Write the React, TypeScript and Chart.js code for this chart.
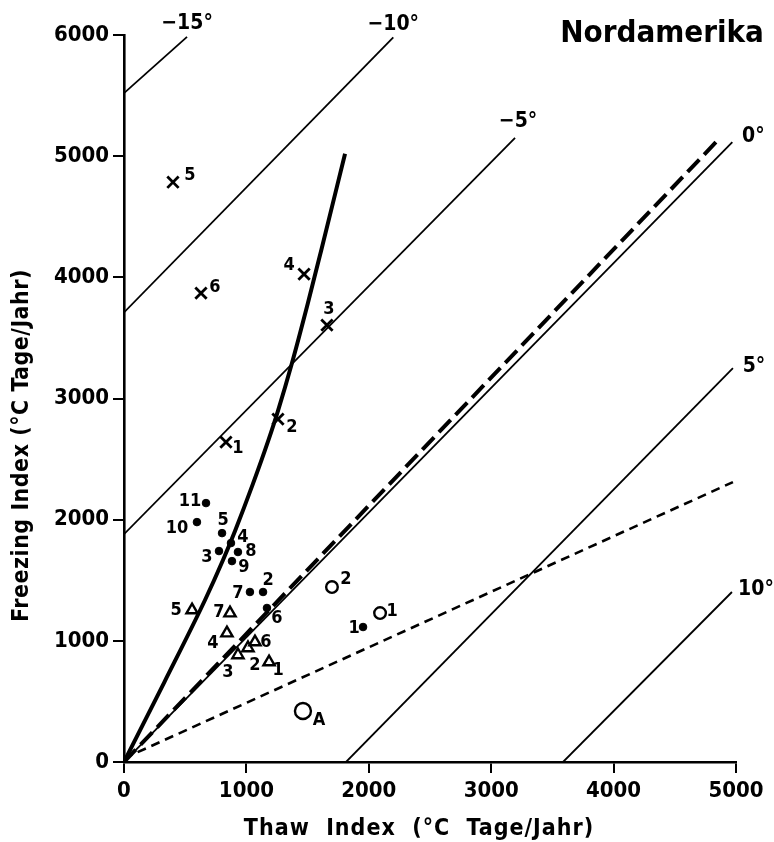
import React, { useEffect, useRef } from "react";
import { Chart, registerables } from "chart.js";

Chart.register(...registerables);

// ---------- data ----------
// Isotherm lines (mean annual air temperature), start and end points
const isoLabels = ["−15°", "−10°", "−5°", "0°", "5°", "10°"];
const isoStartThaw = [0, 0, 0, 0, 1814, 3587];
const isoStartFreeze = [5520, 3710, 1880, 0, 0, 0];
const isoEndThaw = [515, 2200, 3195, 4970, 4975, 4967];
const isoEndFreeze = [5985, 5980, 5150, 5115, 3250, 1403];

// Thick solid curve
const curveThaw = [0, 330, 662, 809, 907, 1054, 1180, 1258, 1373, 1500, 1609, 1806];
const curveFreeze = [0, 660, 1337, 1667, 1907, 2297, 2656, 2898, 3295, 3778, 4214, 5020];

// Thick long-dashed line
const longDashThaw = [0, 4850];
const longDashFreeze = [0, 5130];

// Thin short-dashed line
const shortDashThaw = [0, 4975];
const shortDashFreeze = [30, 2310];

// Crosses (x)
const crossLabels = ["1", "2", "3", "4", "5", "6"];
const crossThaw = [833, 1258, 1658, 1471, 400, 629];
const crossFreeze = [2640, 2830, 3606, 4026, 4785, 3870];

// Filled dots
const dotLabels = ["1", "2", "3", "4", "5", "6", "7", "8", "9", "10", "11"];
const dotThaw = [1953, 1136, 776, 874, 801, 1168, 1029, 931, 882, 596, 670];
const dotFreeze = [1114, 1403, 1741, 1807, 1889, 1271, 1403, 1733, 1658, 1980, 2137];

// Open circles
const circleLabels = ["1", "2"];
const circleThaw = [2092, 1699];
const circleFreeze = [1229, 1444];

// Circle with dot
const targetLabels = ["A"];
const targetThaw = [1462];
const targetFreeze = [421];

// Open triangles
const triLabels = ["1", "2", "3", "4", "5", "6", "7"];
const triThaw = [1185, 1013, 931, 841, 556, 1070, 866];
const triFreeze = [825, 941, 883, 1064, 1254, 990, 1229];

// ---------- styling / label placement (pixel offsets) ----------
const FAMILY = "'DejaVu Sans Condensed', 'DejaVu Sans', sans-serif";
const isoLabelOffsets = [[0, -13], [0, -13], [3, -16], [21, -6], [21, -2], [24, -2]];
const crossLabelOffsets = [[12, 6], [14, 8], [2, -16], [-15, -9], [17, -7], [14, -6]];
const dotLabelOffsets = [[-9, 1], [5, -12], [-12, 6], [12, -6], [1, -13], [10, 10], [-12, 1], [13, -1], [12, 6], [-20, 6], [-16, -2]];
const circleLabelOffsets = [[12, -2], [14, -8]];
const targetLabelOffsets = [[16, 9]];
const triLabelOffsets = [[9, 8], [7, 17], [-10, 17], [-14, 10], [-16, 0], [11, 0], [-11, -1]];

const pts = (xs: number[], ys: number[]) => xs.map((x, i) => ({ x, y: ys[i] }));

const textPlugin = {
  id: "textPlugin",
  afterDatasetsDraw(chart: any) {
    const ctx = chart.ctx;
    ctx.save();
    ctx.fillStyle = "#000";
    ctx.textAlign = "center";
    ctx.textBaseline = "middle";
    chart.data.datasets.forEach((ds: any, i: number) => {
      if (!ds.pointLabels) return;
      const meta = chart.getDatasetMeta(i);
      ctx.font = ds.labelFont;
      ds.pointLabels.forEach((lab: string, j: number) => {
        if (!lab) return;
        const el = meta.data[j];
        const off = ds.labelOffsets[j] || [0, 0];
        ctx.fillText(lab, el.x + off[0], el.y + off[1]);
      });
    });
    ctx.restore();
  },
  afterDraw(chart: any) {
    const ctx = chart.ctx;
    const a = chart.chartArea;
    ctx.save();
    ctx.fillStyle = "#000";
    ctx.textAlign = "center";
    ctx.textBaseline = "middle";
    // main title
    ctx.font = `bold 31px ${FAMILY}`;
    ctx.fillText("Nordamerika", a.right - 74, a.top - 1);
    // x axis title
    ctx.font = `bold 23px ${FAMILY}`;
    (ctx as any).letterSpacing = "1px";
    ctx.fillText("Thaw  Index  (°C  Tage/Jahr)", (a.left + a.right) / 2 - 11, a.bottom + 67);
    // y axis title
    (ctx as any).letterSpacing = "0.5px";
    ctx.translate(22, (a.top + a.bottom) / 2 + 47);
    ctx.rotate(-Math.PI / 2);
    ctx.fillText("Freezing Index (°C Tage/Jahr)", 0, 0);
    ctx.restore();
  },
};

export default function App() {
  const ref = useRef<HTMLCanvasElement | null>(null);

  useEffect(() => {
    document.body.style.margin = "0";
    document.body.style.overflow = "hidden";
    const canvas = ref.current;
    if (!canvas) return;

    const isoSets = isoLabels.map((lab, i) => ({
      data: pts([isoStartThaw[i], isoEndThaw[i]], [isoStartFreeze[i], isoEndFreeze[i]]),
      showLine: true,
      borderColor: "#000",
      borderWidth: 1.8,
      pointRadius: 0,
      fill: false,
      pointLabels: ["", lab],
      labelOffsets: [[0, 0], isoLabelOffsets[i]],
      labelFont: `bold 21px ${FAMILY}`,
    }));

    const labelFont = `bold 18px ${FAMILY}`;

    const datasets: any[] = [
      ...isoSets,
      {
        data: pts(curveThaw, curveFreeze),
        showLine: true,
        borderColor: "#000",
        borderWidth: 4,
        pointRadius: 0,
        cubicInterpolationMode: "monotone",
        fill: false,
      },
      {
        data: pts(longDashThaw, longDashFreeze),
        showLine: true,
        borderColor: "#000",
        borderWidth: 4,
        borderDash: [17, 7],
        pointRadius: 0,
        fill: false,
      },
      {
        data: pts(shortDashThaw, shortDashFreeze),
        showLine: true,
        borderColor: "#000",
        borderWidth: 2.6,
        borderDash: [9, 6],
        pointRadius: 0,
        fill: false,
      },
      {
        data: pts(crossThaw, crossFreeze),
        pointStyle: "crossRot",
        pointRadius: 8,
        borderColor: "#000",
        pointBorderWidth: 2.8,
        pointLabels: crossLabels,
        labelOffsets: crossLabelOffsets,
        labelFont,
      },
      {
        data: pts(dotThaw, dotFreeze),
        pointStyle: "circle",
        pointRadius: 3.8,
        backgroundColor: "#000",
        borderColor: "#000",
        pointBorderWidth: 1,
        pointLabels: dotLabels,
        labelOffsets: dotLabelOffsets,
        labelFont,
      },
      {
        data: pts(circleThaw, circleFreeze),
        pointStyle: "circle",
        pointRadius: 5.8,
        backgroundColor: "#fff",
        borderColor: "#000",
        pointBorderWidth: 2.4,
        pointLabels: circleLabels,
        labelOffsets: circleLabelOffsets,
        labelFont,
      },
      {
        data: pts(targetThaw, targetFreeze),
        pointStyle: "circle",
        pointRadius: 8,
        backgroundColor: "#fff",
        borderColor: "#000",
        pointBorderWidth: 2.4,
        pointLabels: targetLabels,
        labelOffsets: targetLabelOffsets,
        labelFont,
      },
      {
        data: pts(targetThaw, targetFreeze),
        pointStyle: "circle",
        pointRadius: 2.4,
        backgroundColor: "#000",
        borderColor: "#000",
        pointBorderWidth: 1,
      },
      {
        data: pts(triThaw, triFreeze),
        pointStyle: "triangle",
        pointRadius: 6.5,
        backgroundColor: "#fff",
        borderColor: "#000",
        pointBorderWidth: 2.4,
        pointLabels: triLabels,
        labelOffsets: triLabelOffsets,
        labelFont,
      },
    ];

    const tickFont = { family: FAMILY, size: 22, weight: "bold" as const };
    const plain = (v: any) => String(v);

    const chart = new Chart(canvas, {
      type: "scatter",
      data: { datasets },
      plugins: [textPlugin],
      options: {
        animation: false,
        responsive: false,
        maintainAspectRatio: false,
        devicePixelRatio: 1,
        layout: { padding: { left: 0, top: 35, right: 38, bottom: 0 } },
        plugins: { legend: { display: false }, tooltip: { enabled: false } },
        scales: {
          x: {
            type: "linear",
            min: 0,
            max: 5000,
            ticks: { stepSize: 1000, color: "#000", font: tickFont, padding: 5, maxRotation: 0, callback: plain },
            grid: { drawOnChartArea: false, drawTicks: true, tickLength: 11, color: "#000", lineWidth: 2 },
            border: { display: true, color: "#000", width: 2.6 },
            afterFit: (s: any) => { s.height = 80; },
          },
          y: {
            type: "linear",
            min: 0,
            max: 6000,
            ticks: { stepSize: 1000, color: "#000", font: tickFont, padding: 4, callback: plain },
            grid: { drawOnChartArea: false, drawTicks: true, tickLength: 11, color: "#000", lineWidth: 2 },
            border: { display: true, color: "#000", width: 2.6 },
            afterFit: (s: any) => { s.width = 124; },
          },
        },
      } as any,
    });

    return () => chart.destroy();
  }, []);

  return (
    <canvas
      ref={ref}
      width={774}
      height={842}
      style={{ display: "block", width: 774, height: 842, background: "#fff" }}
    />
  );
}
